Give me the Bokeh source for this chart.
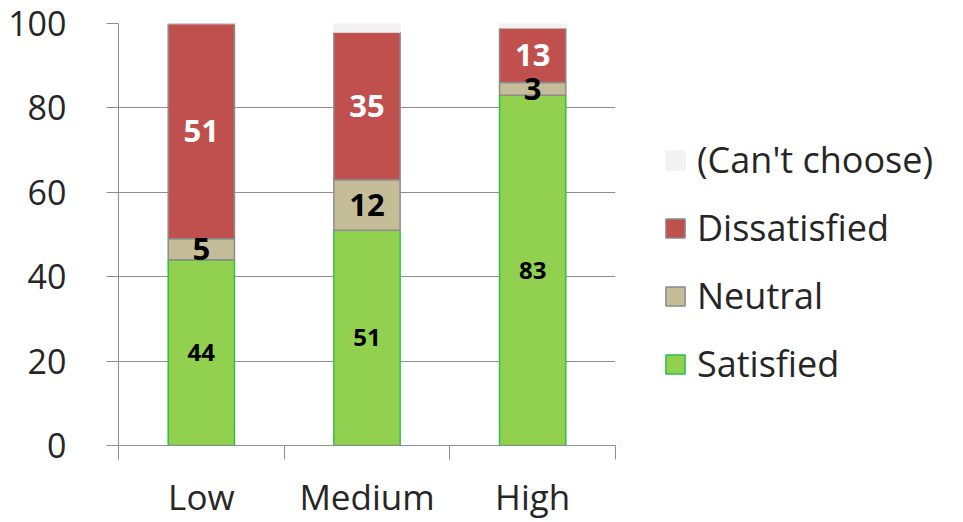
from bokeh.plotting import figure
from bokeh.layouts import row
from bokeh.models import (ColumnDataSource, Range1d, FixedTicker, Legend, LegendItem)
from bokeh.core.properties import value
from bokeh.embed import file_html
from bokeh.resources import INLINE

categories = ["Low", "Medium", "High"]
series = ["Satisfied", "Neutral", "Dissatisfied", "(Can't choose)"]
satisfied = [44, 51, 83]
neutral = [5, 12, 3]
dissatisfied = [51, 35, 13]
cant_choose = [0, 2, 1]
y_ticks = [0, 20, 40, 60, 80, 100]

keys = ["sat", "neu", "dis", "cc"]
values_list = [satisfied, neutral, dissatisfied, cant_choose]
fill_colors = ["#92d050", "#c4bd97", "#c0504d", "#f2f2f2"]
line_colors = ["#2fbf4a", "#8c8c8c", "#8c8c8c", "#f2f2f2"]
label_colors = ["black", "black", "white"]
label_sizes = ["24px", "31px", "31px"]

FONT = "Open Sans"
TXT = "#262626"
GRID = "#8e8e8e"

n = len(categories)
centers = [i + 0.5 for i in range(n)]  # category centres on a 0..n axis

data = {"x": centers}
for k, v in zip(keys, values_list):
    data[k] = v
source = ColumnDataSource(data)

p = figure(width=620, height=522,
           x_range=Range1d(0, n),
           y_range=Range1d(0, 100),
           output_backend="svg", toolbar_location=None,
           min_border_left=118, min_border_right=5,
           min_border_top=23, min_border_bottom=76)
p.outline_line_color = None
p.background_fill_color = "white"
p.border_fill_color = "white"

renderers = p.vbar_stack(keys, x="x", width=0.4, source=source,
                         fill_color=fill_colors, line_color=line_colors,
                         line_width=1.5)

# data labels
lx, ly, lt, lc, ls = [], [], [], [], []
for i in range(n):
    bottom = 0
    for j in range(3):
        v = values_list[j][i]
        if v > 0:
            lx.append(centers[i])
            ly.append(bottom + v / 2)
            lt.append(str(v))
            lc.append(label_colors[j])
            ls.append(label_sizes[j])
        bottom += v
lsrc = ColumnDataSource(dict(x=lx, y=ly, t=lt, c=lc, s=ls))
p.text(x="x", y="y", text="t", source=lsrc, text_align="center",
       text_baseline="middle", text_font=value(FONT), text_font_style="bold",
       text_color="c", text_font_size="s")

# y axis
yt = FixedTicker(ticks=y_ticks)
p.yaxis.ticker = yt
p.yaxis.major_tick_out = 12
p.yaxis.major_tick_in = 0
p.yaxis.minor_tick_line_color = None
p.yaxis.axis_line_color = GRID
p.yaxis.major_tick_line_color = GRID
p.yaxis.major_label_text_font = FONT
p.yaxis.major_label_text_font_size = "34px"
p.yaxis.major_label_text_color = TXT
p.yaxis.major_label_standoff = 40
p.ygrid.ticker = yt
p.ygrid.grid_line_color = GRID
p.xgrid.visible = False

# x axis: labels at category centres, tick marks at category boundaries
xt = FixedTicker(ticks=centers, minor_ticks=list(range(n + 1)))
xaxis = p.xaxis[0]
xaxis.ticker = xt
xaxis.major_label_overrides = {c: name for c, name in zip(centers, categories)}
xaxis.major_tick_out = 0
xaxis.major_tick_in = 0
xaxis.minor_tick_out = 14
xaxis.minor_tick_in = 0
xaxis.minor_tick_line_color = GRID
xaxis.axis_line_color = GRID
xaxis.major_label_text_font = FONT
xaxis.major_label_text_font_size = "35px"
xaxis.major_label_text_color = TXT
xaxis.major_label_standoff = 13

# legend panel (separate canvas to the right of the chart)
lp = figure(width=343, height=522, x_range=Range1d(0, 1), y_range=Range1d(0, 1),
            output_backend="svg", toolbar_location=None,
            min_border=0)
lp.axis.visible = False
lp.grid.visible = False
lp.outline_line_color = None
lp.border_fill_color = "white"
proxy = ColumnDataSource(dict(x=[-5], top=[0]))  # legend proxies, outside view
legend_renderers = [lp.vbar(x="x", top="top", width=0.1, source=proxy,
                            fill_color=fc, line_color=lc, line_width=1.5)
                    for fc, lc in zip(fill_colors, line_colors)]

items = [LegendItem(label=series[i], renderers=[legend_renderers[i]])
         for i in reversed(range(len(series)))]
legend = Legend(items=items, location=(43, 57))
legend.label_text_font = FONT
legend.label_text_font_size = "36px"
legend.label_text_color = TXT
legend.glyph_width = 24
legend.glyph_height = 24
legend.label_standoff = 10
legend.spacing = 19
legend.padding = 0
legend.margin = 0
legend.border_line_color = None
legend.background_fill_alpha = 0
lp.add_layout(legend, "center")

layout = row(p, lp)
open("out.html", "w").write(file_html(layout, INLINE))
